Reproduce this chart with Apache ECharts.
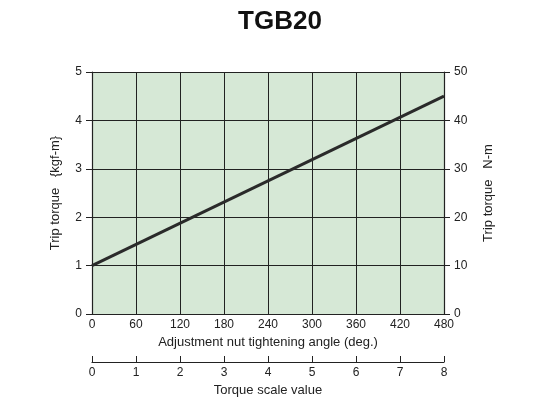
<!DOCTYPE html>
<html>
<head>
<meta charset="utf-8">
<script src="https://cdn.jsdelivr.net/npm/echarts@6/dist/echarts.min.js"></script>
<style>html,body{margin:0;padding:0;background:#fff}</style>
</head>
<body>
<div id="chart" style="width:560px;height:420px"></div>
<script>
var angles = [0, 480];
var torqueKgf = [1, 4.5];

var lineData = [];
for (var i = 0; i < angles.length; i++) lineData.push([angles[i], torqueKgf[i]]);

var txt = { color: '#222', fontFamily: 'Liberation Sans', fontSize: 13 };
var chart = echarts.init(document.getElementById('chart'));
chart.setOption({
  animation: false,
  title: {
    text: 'TGB20', left: 'center', top: 4,
    textStyle: { fontFamily: 'Liberation Sans', fontSize: 26, fontWeight: 'bold', color: '#111' }
  },
  grid: [
    { left: 92, right: 116, top: 72, bottom: 106, backgroundColor: '#d6e8d6', show: true, borderWidth: 0 },
    { left: 92, right: 116, top: 361, height: 1 }
  ],
  xAxis: [{
    type: 'value', min: 0, max: 480, interval: 60, gridIndex: 0,
    name: 'Adjustment nut tightening angle (deg.)', nameLocation: 'middle', nameGap: 22,
    nameTextStyle: txt,
    axisLine: { lineStyle: { color: '#222', width: 1.2 } },
    axisTick: { show: false },
    axisLabel: Object.assign({ margin: 5 }, txt, { fontSize: 12 }),
    splitLine: { lineStyle: { color: '#222', width: 1 } }
  }, {
    type: 'value', min: 0, max: 8, interval: 1, gridIndex: 1, position: 'bottom',
    name: 'Torque scale value', nameLocation: 'middle', nameGap: 22,
    nameTextStyle: txt,
    axisLine: { lineStyle: { color: '#222', width: 1.2 } },
    axisTick: { inside: true, length: 6, lineStyle: { color: '#222' } },
    axisLabel: Object.assign({ margin: 5 }, txt, { fontSize: 12 }),
    splitLine: { show: false }
  }],
  yAxis: [{
    type: 'value', min: 0, max: 5, interval: 1, gridIndex: 0,
    name: 'Trip torque   {kgf-m}', nameLocation: 'middle', nameGap: 30,
    nameTextStyle: txt,
    axisLine: { show: true, lineStyle: { color: '#222', width: 1.2 } },
    axisTick: { show: true, length: 6, lineStyle: { color: '#222' } },
    axisLabel: Object.assign({ margin: 10 }, txt, { fontSize: 12 }),
    splitLine: { lineStyle: { color: '#222', width: 1 } }
  }, {
    type: 'value', min: 0, max: 50, interval: 10, gridIndex: 0, position: 'right',
    name: 'Trip torque   N-m', nameLocation: 'middle', nameGap: 38, nameRotate: 90,
    nameTextStyle: txt,
    axisLine: { show: true, lineStyle: { color: '#222', width: 1.2 } },
    axisTick: { show: true, length: 6, lineStyle: { color: '#222' } },
    axisLabel: Object.assign({ margin: 10 }, txt, { fontSize: 12 }),
    splitLine: { show: false }
  }, {
    type: 'value', gridIndex: 1, show: false
  }],
  series: [{
    type: 'line', xAxisIndex: 0, yAxisIndex: 0, data: lineData,
    symbol: 'none', lineStyle: { color: '#2a2a2a', width: 3 }
  }]
});
</script>
</body>
</html>
